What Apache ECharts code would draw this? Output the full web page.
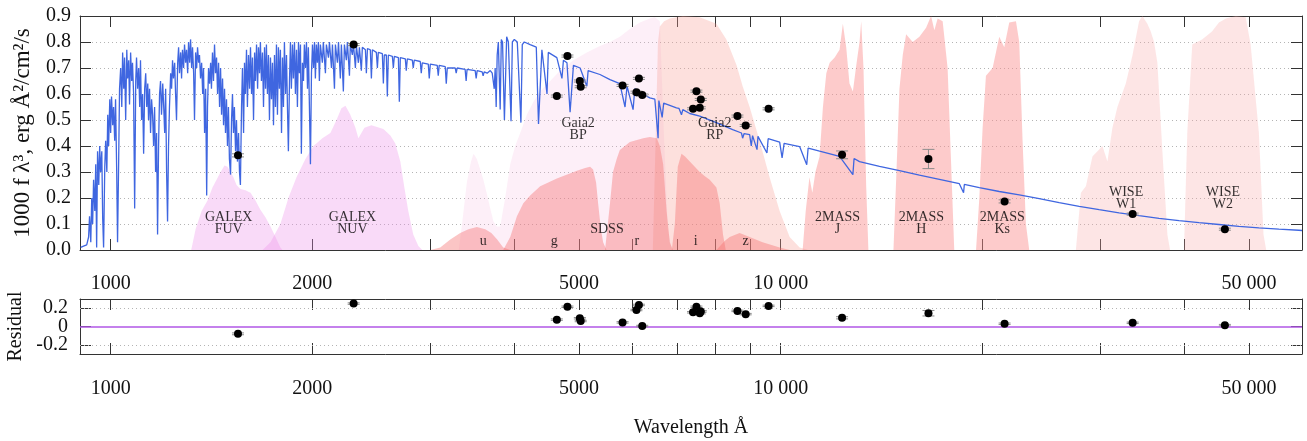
<!DOCTYPE html>
<html><head><meta charset="utf-8">
<script src="https://cdn.jsdelivr.net/npm/echarts@6/dist/echarts.min.js"></script>
<style>html,body{margin:0;padding:0;background:#fff}#c{width:1307px;height:441px}</style>
</head><body><div id="c"></div>
<script>
// ---------- DATA ----------
// model spectrum [wavelength (Å), 1000 f λ^3]
const spectrum = [
[902,0.01],[911,0.015],[921,0.02],[927,0.05],[930,0.13],[934,0.03],[937,0.20],[940,0.10],[943,0.27],[947,0.15],
[950,0.33],[953,0.01],[956,0.38],[960,0.25],[963,0.40],[966,0.30],[970,0.38],[973,0.12],[976,0.01],[980,0.32],
[983,0.42],[987,0.30],[990,0.52],[993,0.40],[997,0.58],[1000,0.45],[1003,0.59],[1007,0.48],[1010,0.55],[1014,0.42],
[1017,0.58],[1021,0.30],[1024,0.03],[1028,0.35],[1031,0.62],[1035,0.70],[1039,0.55],[1042,0.76],[1046,0.62],[1049,0.74],
[1053,0.50],[1057,0.77],[1060,0.66],[1064,0.73],[1067,0.56],[1071,0.76],[1075,0.65],[1078,0.72],[1082,0.60],[1086,0.16],
[1090,0.65],[1093,0.74],[1097,0.62],[1101,0.70],[1105,0.55],[1108,0.73],[1112,0.50],[1116,0.60],[1120,0.37],[1124,0.62],
[1128,0.68],[1132,0.55],[1136,0.64],[1139,0.50],[1143,0.62],[1147,0.45],[1151,0.58],[1155,0.52],[1159,0.40],[1163,0.55],
[1167,0.30],[1171,0.45],[1175,0.06],[1179,0.40],[1183,0.60],[1187,0.65],[1191,0.52],[1196,0.64],[1200,0.55],[1204,0.45],
[1208,0.62],[1212,0.30],[1216,0.11],[1220,0.40],[1224,0.55],[1229,0.68],[1233,0.62],[1237,0.73],[1241,0.66],[1246,0.72],
[1250,0.60],[1254,0.50],[1259,0.72],[1263,0.78],[1267,0.68],[1272,0.76],[1276,0.66],[1280,0.77],[1285,0.70],[1289,0.79],
[1294,0.72],[1298,0.77],[1303,0.68],[1307,0.80],[1312,0.72],[1316,0.81],[1321,0.70],[1325,0.78],[1330,0.68],[1334,0.50],
[1339,0.76],[1344,0.70],[1348,0.78],[1353,0.72],[1357,0.75],[1362,0.66],[1367,0.72],[1372,0.60],[1376,0.70],[1381,0.45],
[1386,0.62],[1391,0.21],[1395,0.55],[1400,0.70],[1405,0.64],[1410,0.72],[1414,0.62],[1419,0.76],[1424,0.65],[1429,0.79],
[1434,0.68],[1439,0.74],[1444,0.60],[1449,0.72],[1454,0.55],[1459,0.70],[1464,0.52],[1469,0.66],[1474,0.48],[1479,0.62],
[1484,0.45],[1489,0.58],[1494,0.40],[1499,0.55],[1504,0.35],[1510,0.29],[1515,0.50],[1520,0.60],[1525,0.45],[1530,0.55],
[1536,0.38],[1541,0.50],[1546,0.34],[1552,0.45],[1557,0.30],[1562,0.25],[1568,0.55],[1573,0.70],[1579,0.45],[1584,0.72],
[1589,0.60],[1595,0.77],[1600,0.55],[1606,0.75],[1612,0.62],[1617,0.78],[1623,0.60],[1628,0.74],[1634,0.50],[1640,0.76],
[1645,0.65],[1651,0.79],[1657,0.62],[1662,0.78],[1668,0.68],[1673,0.80],[1679,0.65],[1685,0.76],[1691,0.55],[1697,0.78],
[1703,0.62],[1708,0.79],[1714,0.60],[1720,0.75],[1726,0.50],[1732,0.74],[1738,0.58],[1744,0.72],[1750,0.48],[1756,0.75],
[1762,0.55],[1768,0.79],[1774,0.52],[1780,0.78],[1786,0.62],[1792,0.77],[1799,0.45],[1805,0.74],[1811,0.55],[1817,0.80],
[1824,0.60],[1830,0.75],[1836,0.55],[1842,0.38],[1849,0.65],[1855,0.80],[1861,0.62],[1868,0.79],[1874,0.66],[1881,0.80],
[1887,0.60],[1894,0.77],[1900,0.55],[1907,0.80],[1913,0.68],[1920,0.79],[1926,0.37],[1933,0.72],[1940,0.65],[1946,0.79],
[1953,0.70],[1960,0.80],[1967,0.62],[1973,0.78],[1980,0.55],[1987,0.33],[1994,0.68],[2001,0.79],[2008,0.70],[2015,0.80],
[2021,0.66],[2028,0.79],[2035,0.72],[2042,0.80],[2049,0.65],[2056,0.79],[2070,0.72],[2077,0.80],[2092,0.68],[2099,0.79],
[2114,0.74],[2121,0.80],[2136,0.70],[2143,0.79],[2158,0.62],[2165,0.79],[2180,0.72],[2188,0.80],[2202,0.66],[2210,0.79],
[2225,0.61],[2233,0.79],[2248,0.73],[2256,0.80],[2272,0.67],[2279,0.79],[2295,0.75],[2303,0.795],[2319,0.70],[2327,0.785],
[2343,0.72],[2351,0.78],[2367,0.69],[2375,0.78],[2400,0.77],[2408,0.68],[2417,0.775],[2441,0.77],[2450,0.66],[2458,0.77],
[2492,0.76],[2501,0.70],[2509,0.76],[2544,0.755],[2553,0.64],[2561,0.75],[2579,0.75],[2588,0.59],[2597,0.75],[2633,0.745],
[2642,0.70],[2651,0.745],[2688,0.74],[2697,0.57],[2706,0.74],[2753,0.735],[2762,0.69],[2772,0.735],[2820,0.73],[2829,0.70],
[2839,0.73],[2898,0.725],[2908,0.68],[2918,0.72],[2979,0.715],[2989,0.66],[3000,0.715],[3072,0.71],[3083,0.67],[3093,0.71],
[3158,0.705],[3169,0.64],[3180,0.70],[3268,0.70],[3279,0.68],[3290,0.70],[3381,0.695],[3393,0.65],[3404,0.695],[3500,0.69],
[3512,0.66],[3524,0.69],[3585,0.685],[3597,0.67],[3610,0.685],[3647,0.68],[3686,0.69],[3711,0.68],[3737,0.62],[3749,0.70],
[3762,0.55],[3775,0.75],[3790,0.80],[3814,0.54],[3829,0.81],[3845,0.80],[3870,0.50],[3900,0.82],[3923,0.80],[3959,0.495],
[3977,0.80],[4004,0.81],[4045,0.80],[4096,0.49],[4115,0.79],[4143,0.80],[4228,0.79],[4318,0.78],[4351,0.485],[4402,0.77],
[4480,0.60],[4500,0.76],[4529,0.755],[4634,0.74],[4716,0.66],[4740,0.73],[4798,0.72],[4850,0.53],[4906,0.71],[5020,0.70],
[5137,0.63],[5160,0.69],[5195,0.69],[5374,0.675],[5563,0.655],[5754,0.64],[5858,0.55],[5898,0.63],[6022,0.54],[6058,0.62],
[6165,0.605],[6379,0.585],[6490,0.58],[6563,0.43],[6580,0.575],[6655,0.51],[6690,0.565],[6990,0.547],[7050,0.545],[7112,0.52],
[7144,0.54],[7318,0.525],[7573,0.515],[8019,0.49],[8480,0.463],[8740,0.45],[8775,0.43],[8820,0.448],[8989,0.444],[9040,0.40],
[9080,0.44],[9220,0.386],[9250,0.437],[9540,0.373],[9580,0.428],[9966,0.415],[10050,0.354],[10120,0.41],[10674,0.398],[10938,0.328],
[10990,0.392],[11432,0.38],[12244,0.36],[12818,0.29],[12870,0.352],[13114,0.34],[14045,0.322],[15043,0.305],[16111,0.288],[17256,0.272],
[18481,0.255],[18751,0.22],[18800,0.252],[19794,0.24],[21200,0.225],[22706,0.212],[24319,0.198],[26047,0.182],[27897,0.168],[29879,0.155],
[32001,0.143],[34275,0.132],[36710,0.122],[39318,0.113],[42110,0.105],[45102,0.098],[48306,0.091],[51738,0.085],[55414,0.080],[59350,0.076],
[60000,0.075]
];

// photometry
const photWl   = [1549, 2305, 4634, 4806, 5015, 5030, 5808, 6144, 6092, 6215, 7487, 7600, 7400, 7573, 8620, 8868, 9594, 12350, 16620, 21590, 33526, 46028];
const photFlux = [0.364,0.790,0.592,0.746,0.650,0.628,0.633,0.660,0.607,0.596,0.611,0.579,0.543,0.547,0.515,0.479,0.543,0.366,0.350,0.187,0.138,0.080];
const photErr  = [0.006,0.004,0.004,0.004,0.004,0.004,0.004,0.004,0.004,0.004,0.004,0.004,0.004,0.004,0.004,0.004,0.004,0.015,0.037,0.006,0.004,0.004];
const residVal = [-0.08,0.25,0.075,0.215,0.09,0.06,0.045,0.235,0.18,0.005,0.215,0.165,0.155,0.145,0.17,0.135,0.225,0.095,0.145,0.03,0.04,0.015];
const residErr = [0.01,0.008,0.008,0.008,0.008,0.008,0.008,0.008,0.008,0.008,0.008,0.008,0.008,0.008,0.008,0.008,0.008,0.012,0.03,0.008,0.008,0.008];

// filter transmission curves [wavelength, scaled transmission]
const galexFUV = [[1319,0],[1339,0.08],[1367,0.15],[1395,0.19],[1419,0.24],[1439,0.27],[1459,0.30],[1479,0.325],[1494,0.32],[1510,0.30],[1525,0.28],[1541,0.25],[1562,0.235],[1589,0.23],[1617,0.22],[1645,0.19],[1673,0.155],[1703,0.125],[1732,0.09],[1762,0.05],[1792,0.01],[1805,0]];
const galexNUV = [[1685,0],[1732,0.03],[1792,0.10],[1842,0.20],[1894,0.28],[1953,0.35],[2008,0.40],[2070,0.43],[2128,0.45],[2173,0.50],[2210,0.545],[2241,0.555],[2279,0.52],[2319,0.47],[2343,0.43],[2392,0.47],[2450,0.48],[2553,0.465],[2615,0.44],[2660,0.41],[2706,0.34],[2744,0.24],[2781,0.15],[2829,0.06],[2879,0.015],[2918,0]];
const gaiaBP = [[3308,0],[3346,0.10],[3401,0.26],[3450,0.34],[3481,0.37],[3520,0.35],[3561,0.31],[3600,0.27],[3640,0.22],[3686,0.16],[3727,0.11],[3770,0.09],[3814,0.09],[3880,0.20],[3948,0.33],[4016,0.40],[4086,0.45],[4180,0.52],[4276,0.57],[4376,0.61],[4529,0.65],[4687,0.69],[4906,0.73],[5137,0.76],[5374,0.785],[5563,0.80],[5754,0.82],[5956,0.85],[6165,0.875],[6379,0.89],[6490,0.895],[6602,0.88],[6694,0.45],[6787,0.08],[6880,0]];
const gaiaRP = [[6445,0],[6511,0.45],[6560,0.80],[6602,0.86],[6700,0.88],[6832,0.89],[7144,0.90],[7573,0.895],[8019,0.87],[8298,0.81],[8597,0.71],[8776,0.63],[8989,0.55],[9302,0.42],[9627,0.28],[9966,0.15],[10314,0.05],[10674,0.01],[11000,0]];
const sdssU = [[3000,0],[3104,0.01],[3213,0.04],[3325,0.065],[3420,0.08],[3520,0.088],[3623,0.08],[3700,0.065],[3775,0.04],[3854,0.01],[3948,0]];
const sdssG = [[3854,0],[3948,0.05],[4040,0.13],[4130,0.18],[4228,0.21],[4376,0.245],[4634,0.275],[4965,0.305],[5107,0.315],[5195,0.32],[5249,0.31],[5303,0.26],[5345,0.17],[5392,0.08],[5433,0.03],[5496,0]];
const sdssR = [[5469,0],[5563,0.18],[5621,0.30],[5692,0.35],[5754,0.385],[5956,0.415],[6235,0.43],[6379,0.435],[6534,0.43],[6602,0.40],[6678,0.33],[6757,0.15],[6832,0.03],[6903,0]];
const sdssI = [[6880,0],[6951,0.10],[7022,0.32],[7112,0.37],[7200,0.36],[7318,0.34],[7573,0.30],[7700,0.285],[7837,0.27],[8019,0.24],[8110,0.18],[8203,0.06],[8280,0]];
const sdssZ = [[8019,0],[8250,0.035],[8393,0.05],[8686,0.065],[8989,0.05],[9398,0.03],[9966,0.01],[10314,0]];
const tmassJ = [[10785,0],[10900,0.15],[11040,0.28],[11150,0.22],[11270,0.30],[11432,0.36],[11564,0.55],[11700,0.68],[11836,0.72],[12040,0.74],[12244,0.77],[12384,0.87],[12527,0.78],[12669,0.64],[12818,0.61],[12967,0.71],[13114,0.80],[13190,0.88],[13294,0.70],[13416,0.25],[13520,0]];
const tmassH = [[14736,0],[14888,0.30],[15043,0.62],[15215,0.75],[15391,0.83],[15742,0.80],[16111,0.82],[16485,0.855],[16770,0.90],[16960,0.845],[17154,0.89],[17450,0.88],[17750,0.70],[17955,0.35],[18160,0]];
const tmassKs = [[19572,0],[19794,0.20],[20020,0.47],[20250,0.67],[20720,0.70],[21200,0.82],[21566,0.78],[21938,0.875],[22450,0.88],[22706,0.80],[22966,0.42],[23230,0.10],[23496,0]];
const wiseW1 = [[27584,0],[28064,0.22],[28550,0.245],[29199,0.36],[30220,0.40],[30743,0.34],[31275,0.47],[31817,0.55],[32747,0.64],[33514,0.75],[34275,0.88],[34665,0.90],[35265,0.87],[35680,0.84],[36088,0.80],[36502,0.72],[37134,0.38],[37776,0.06],[38125,0]];
const wiseW2 = [[39996,0],[40450,0.45],[41145,0.79],[42565,0.81],[44032,0.84],[45102,0.875],[46200,0.89],[47794,0.90],[49444,0.895],[50290,0.79],[51738,0.45],[52563,0.06],[53060,0]];

// filter annotations
const filterLabels = [
  {text:'GALEX\nFUV', wl:1500, y:0.103},
  {text:'GALEX\nNUV', wl:2295, y:0.103},
  {text:'Gaia2\nBP', wl:4986, y:0.465},
  {text:'Gaia2\nRP', wl:7973, y:0.465},
  {text:'SDSS', wl:5505, y:0.081},
  {text:'u', wl:3597, y:0.035},
  {text:'g', wl:4591, y:0.035},
  {text:'r', wl:6101, y:0.035},
  {text:'i', wl:7470, y:0.035},
  {text:'z', wl:8867, y:0.035},
  {text:'2MASS\nJ', wl:12160, y:0.103},
  {text:'2MASS\nH', wl:16222, y:0.103},
  {text:'2MASS\nKs', wl:21420, y:0.103},
  {text:'WISE\nW1', wl:32780, y:0.199},
  {text:'WISE\nW2', wl:45724, y:0.199}
];

// axis ticks
const xTickValues  = [1000,2000,3000,4000,5000,6000,7000,8000,9000,10000,20000,30000,40000,50000];
const xLabelValues = [1000,2000,5000,10000,50000];
const residTicks   = [-0.2,0,0.2];
const residOuterLabels = [-0.2,0.2];
const residZeroLabel   = [0];

// ---------- CHART ----------
const FONT = "'Liberation Serif','DejaVu Serif',serif";
const AX = '#333';
const chart = echarts.init(document.getElementById('c'), null, {renderer:'canvas'});

function fmtX(v){ v = Math.round(v); return v >= 10000 ? String(v).replace(/(\d+)(\d{3})$/, '$1 $2') : String(v); }
function fmtR(v){ return Math.abs(v) < 1e-9 ? '0' : v.toFixed(1); }

function xAxisDef(grid, pos, labels, margin, extra){
  return Object.assign({
    type:'log', logBase:10, min:900, max:60000, gridIndex:grid, position:pos,
    axisLine:{show:true, onZero:false, lineStyle:{color:AX, width:1}},
    axisTick:{show:true, inside:true, length:11, customValues:xTickValues, lineStyle:{color:AX, width:1}},
    axisLabel:{show:labels, customValues:xLabelValues, formatter:fmtX, margin:margin, fontFamily:FONT, fontSize:20, color:'#111', hideOverlap:false},
    splitLine:{show:false}, minorTick:{show:false}
  }, extra||{});
}

function errRender(params, api){
  const x = api.value(0), y = api.value(1), e = api.value(2);
  const t = api.coord([x, y + e]), b = api.coord([x, y - e]);
  const cw = 6;
  const st = {stroke:'#8c8c8c', lineWidth:1};
  return {type:'group', children:[
    {type:'line', shape:{x1:t[0], y1:t[1], x2:b[0], y2:b[1]}, style:st},
    {type:'line', shape:{x1:t[0]-cw, y1:t[1], x2:t[0]+cw, y2:t[1]}, style:st},
    {type:'line', shape:{x1:b[0]-cw, y1:b[1], x2:b[0]+cw, y2:b[1]}, style:st}
  ]};
}

function fill(data, color, z){
  return {type:'line', xAxisIndex:0, yAxisIndex:0, data:data, showSymbol:false, symbol:'none',
    lineStyle:{width:0, opacity:0}, areaStyle:{color:color, opacity:1}, z:z, silent:true, smooth:false};
}

const C_GALEX = 'rgba(236,140,232,0.32)';
const C_BP    = 'rgba(245,175,220,0.20)';
const C_RP    = 'rgba(250,160,150,0.32)';
const C_SDSS  = 'rgba(245,110,110,0.40)';
const C_2MASS = 'rgba(250,140,140,0.45)';
const C_WISE  = 'rgba(250,170,170,0.30)';

const photData  = photWl.map((w,i)=>[w, photFlux[i], photErr[i]]);
const residData = photWl.map((w,i)=>[w, residVal[i], residErr[i]]);

const resYBase = {type:'value', gridIndex:1, min:-0.3, max:0.3, splitLine:{show:false}};

const option = {
  animation:false,
  backgroundColor:'#fff',
  grid:[
    {left:80, right:5, top:16, height:234, outerBoundsMode:'none', containLabel:false},
    {left:80, right:5, top:299, height:55, outerBoundsMode:'none', containLabel:false}
  ],
  xAxis:[
    xAxisDef(0,'bottom',true,24),
    xAxisDef(0,'top',false,8),
    xAxisDef(1,'bottom',true,25,{name:'Wavelength Å', nameLocation:'middle', nameGap:64,
      nameTextStyle:{fontFamily:FONT, fontSize:20, color:'#111'}}),
    xAxisDef(1,'top',false,8)
  ],
  yAxis:[
    {type:'value', gridIndex:0, position:'left', min:0, max:0.9, interval:0.1,
     name:'1000 f λ³, erg Å²/cm²/s', nameLocation:'middle', nameRotate:90, nameGap:46,
     nameTextStyle:{fontFamily:FONT, fontSize:23, color:'#111'},
     axisLine:{show:true, lineStyle:{color:AX}},
     axisTick:{show:true, inside:true, length:11, lineStyle:{color:AX}},
     axisLabel:{formatter:v=>v.toFixed(1), margin:9, fontFamily:FONT, fontSize:20, color:'#111', hideOverlap:false},
     splitLine:{show:true, lineStyle:{color:'#b4b4b4', type:[1,3], width:1}}},
    {type:'value', gridIndex:0, position:'right', min:0, max:0.9, interval:0.1,
     axisLine:{show:true, lineStyle:{color:AX}},
     axisTick:{show:true, inside:true, length:11, lineStyle:{color:AX}},
     axisLabel:{show:false}, splitLine:{show:false}},
    Object.assign({}, resYBase, {position:'left',
     name:'Residual', nameLocation:'middle', nameRotate:90, nameGap:46,
     nameTextStyle:{fontFamily:FONT, fontSize:20, color:'#111'},
     axisLine:{show:true, lineStyle:{color:AX}},
     axisTick:{show:true, inside:true, length:11, customValues:residTicks, lineStyle:{color:AX}},
     axisLabel:{customValues:residOuterLabels, formatter:fmtR, margin:12,
       fontFamily:FONT, fontSize:20, color:'#111', hideOverlap:false, showMinLabel:true, showMaxLabel:true}}),
    Object.assign({}, resYBase, {position:'right',
     axisLine:{show:true, lineStyle:{color:AX}},
     axisTick:{show:true, inside:true, length:11, customValues:residTicks, lineStyle:{color:AX}},
     axisLabel:{show:false}}),
    Object.assign({}, resYBase, {position:'left', offset:0,
     axisLine:{show:false}, axisTick:{show:false},
     axisLabel:{customValues:residZeroLabel, formatter:fmtR, margin:12,
       fontFamily:FONT, fontSize:20, color:'#111', hideOverlap:false, showMinLabel:true, showMaxLabel:true}})
  ],
  series:[
    fill(gaiaBP, C_BP, 1),
    fill(gaiaRP, C_RP, 1),
    fill(galexFUV, C_GALEX, 2),
    fill(galexNUV, C_GALEX, 2),
    fill(sdssU, C_SDSS, 2),
    fill(sdssG, C_SDSS, 2),
    fill(sdssR, C_SDSS, 2),
    fill(sdssI, C_SDSS, 2),
    fill(sdssZ, C_SDSS, 2),
    fill(tmassJ, C_2MASS, 2),
    fill(tmassH, C_2MASS, 2),
    fill(tmassKs, C_2MASS, 2),
    fill(wiseW1, C_WISE, 2),
    fill(wiseW2, C_WISE, 2),
    {type:'line', xAxisIndex:0, yAxisIndex:0, data:spectrum, showSymbol:false, symbol:'none',
     lineStyle:{color:'#3f66e0', width:1.3}, z:4, silent:true, sampling:null},
    {type:'scatter', xAxisIndex:0, yAxisIndex:0, symbolSize:1,
     data:filterLabels.map(l=>({name:l.text, value:[l.wl, l.y]})),
     itemStyle:{color:'rgba(0,0,0,0)'}, z:6, silent:true,
     label:{show:true, position:'inside', formatter:p=>p.name, fontFamily:FONT, fontSize:14, lineHeight:12, color:'#000'}},
    {type:'custom', xAxisIndex:0, yAxisIndex:0, data:photData, renderItem:errRender, encode:{x:0,y:1}, z:7, silent:true},
    {type:'scatter', xAxisIndex:0, yAxisIndex:0, data:photData, symbolSize:8, itemStyle:{color:'#000', opacity:1}, z:8, silent:true},
    {type:'custom', xAxisIndex:2, yAxisIndex:2, data:residData, renderItem:errRender, encode:{x:0,y:1}, z:4, silent:true,
     markLine:{silent:true, symbol:['none','none'], label:{show:false}, z:2,
       data:[
         {yAxis:0.2, lineStyle:{color:'#b4b4b4', type:[1,3], width:1}},
         {yAxis:-0.2, lineStyle:{color:'#b4b4b4', type:[1,3], width:1}},
         {yAxis:0, lineStyle:{color:'#b057e6', type:'solid', width:1.5}}
       ]}},
    {type:'scatter', xAxisIndex:2, yAxisIndex:2, data:residData, symbolSize:8, itemStyle:{color:'#000', opacity:1}, z:8, silent:true}
  ]
};
chart.setOption(option);
</script>
</body></html>
